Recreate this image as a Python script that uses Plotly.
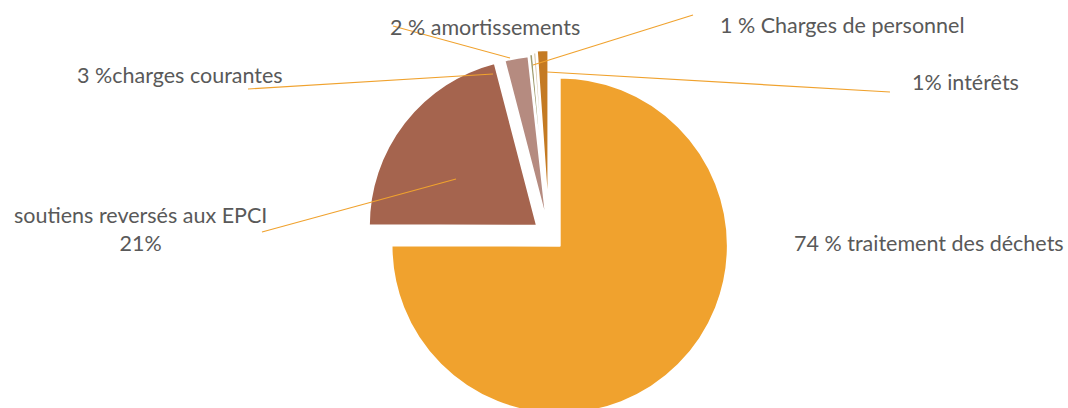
import plotly.graph_objects as go

# ---- data ----
categories = ["traitement des déchets", "soutiens reversés aux EPCI", "charges courantes",
              "amortissements", "charges de personnel", "intérêts"]
values = [75.0, 20.9, 2.3, 0.35, 0.3, 1.1]
label_texts = ["74 % traitement des déchets", "soutiens reversés aux EPCI<br>21%",
               "3 %charges courantes", "2 % amortissements",
               "1 % Charges de personnel", "1% intérêts"]

# ---- styles ----
colors = ["#F0A22E", "#A5644E", "#B58B80", "#9E9B6C", "#D8C7A8", "#C47A22"]
pulls = [0.09, 0.09, 0.07, 0.08, 0.09, 0.1]
W, H = 1068, 420          # page is 408 high; the bottom of the pie is cropped like the reference
TEXT = "#595959"
LINE = "#F0A22E"

fig = go.Figure(go.Pie(
    labels=categories, values=values, sort=False, direction="clockwise", rotation=0,
    marker=dict(colors=colors, line=dict(color="white", width=2)),
    pull=pulls, textinfo="none", hoverinfo="label+percent", showlegend=False,
    domain=dict(x=[364 / W, 734 / W], y=[0, 370 / H]),
))

def px(x, y):
    return x / W, 1 - y / H

# label anchors (pixel) : (x, y, xanchor)
label_pos = [(1066, 243, "right"), (140, 229, "center"), (75, 75, "left"),
             (388, 27, "left"), (718, 25, "left"), (910, 82, "left")]
for t, (x, y, xa) in zip(label_texts, label_pos):
    X, Y = px(x, y)
    fig.add_annotation(x=X, y=Y, xref="paper", yref="paper", text=t, showarrow=False,
                       xanchor=xa, yanchor="middle", align="center",
                       font=dict(family="Lato", size=21.5, color=TEXT))

# leader lines (pixel): from label to slice
leaders = [((262, 232), (456, 179)), ((248, 89), (493, 74)), ((393, 26), (510, 58)),
           ((693, 15), (533, 65)), ((890, 92), (547, 72))]
for (x0, y0), (x1, y1) in leaders:
    X0, Y0 = px(x0, y0)
    X1, Y1 = px(x1, y1)
    fig.add_shape(type="line", xref="paper", yref="paper", x0=X0, y0=Y0, x1=X1, y1=Y1,
                  line=dict(color=LINE, width=1.2))

fig.update_layout(width=W, height=H, margin=dict(l=0, r=0, t=0, b=0),
                  paper_bgcolor="white", plot_bgcolor="white")
fig.write_html("out.html", config={"displayModeBar": False},
               post_script="document.body.style.margin='0';document.body.style.overflow='hidden';")
